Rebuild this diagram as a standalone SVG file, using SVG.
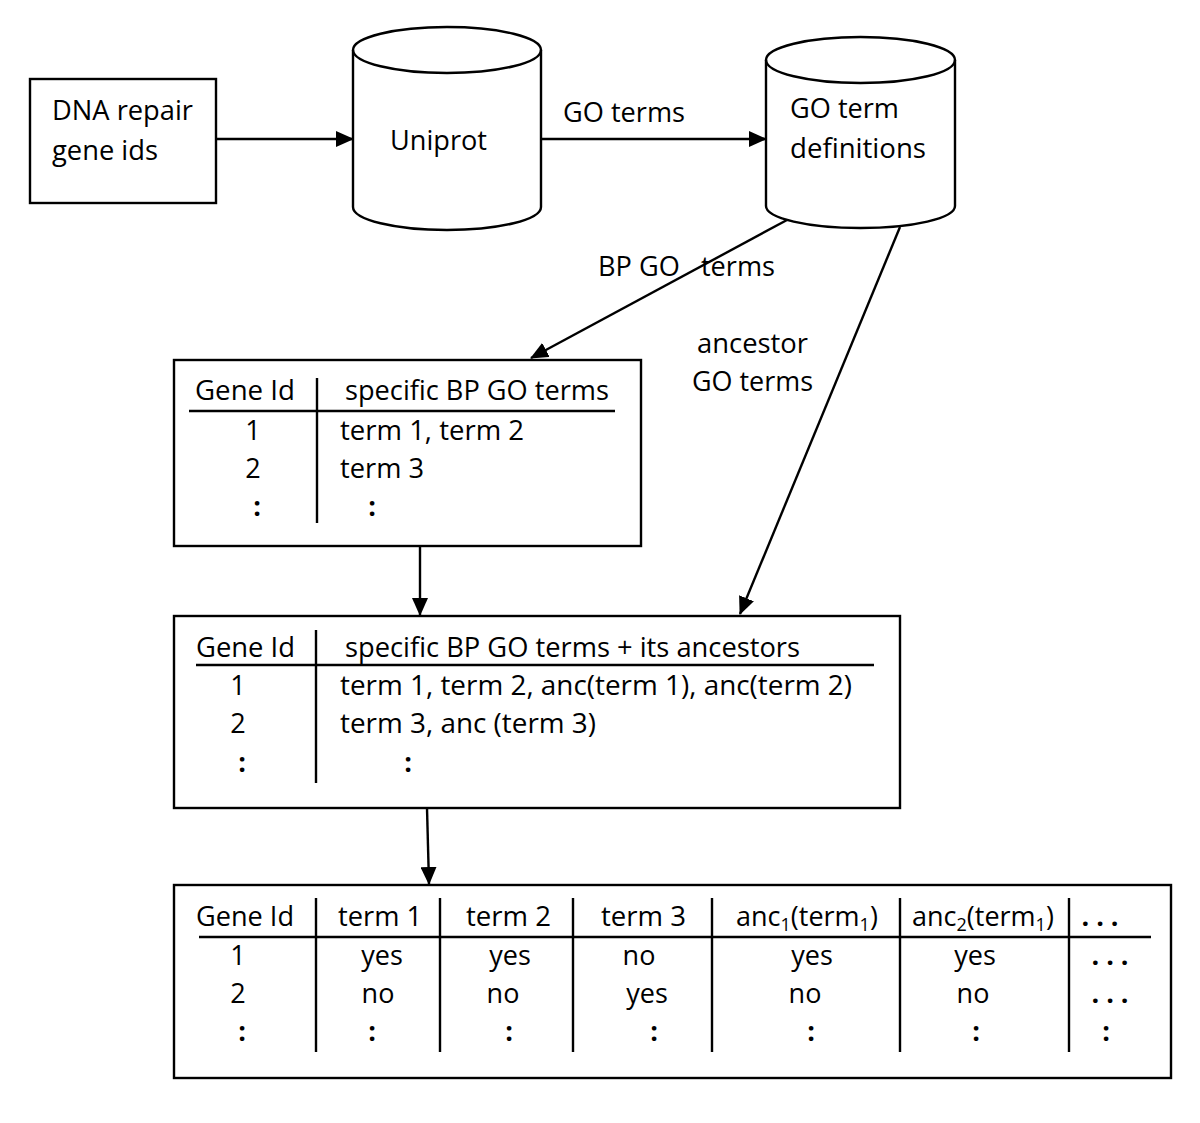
<svg xmlns="http://www.w3.org/2000/svg" width="1200" height="1123" viewBox="0 0 1200 1123">
<style>
text{font-family:"Open Sans","Liberation Sans",sans-serif;font-size:27px;fill:#000}
.s{font-size:18px}
.box{fill:#fff;stroke:#000;stroke-width:2.4}
.ln{stroke:#000;stroke-width:2.4;fill:none}
.c{text-anchor:middle}
.b{font-weight:bold}
</style>
<defs>
<marker id="ah" markerUnits="userSpaceOnUse" markerWidth="18" markerHeight="16" refX="17" refY="8" orient="auto">
<path d="M0,0 L18,8 L0,16 Z" fill="#000"/>
</marker>
</defs>
<rect width="1200" height="1123" fill="#fff"/>
<g id="connectors">
<line class="ln" x1="216" y1="139" x2="353" y2="139" marker-end="url(#ah)"/>
<line class="ln" x1="541" y1="139" x2="766" y2="139" marker-end="url(#ah)"/>
<line class="ln" x1="787" y1="220" x2="531" y2="358" marker-end="url(#ah)"/>
<line class="ln" x1="900" y1="227" x2="740" y2="614" marker-end="url(#ah)"/>
<line class="ln" x1="420" y1="546" x2="420" y2="615" marker-end="url(#ah)"/>
<line class="ln" x1="427" y1="808" x2="429" y2="884" marker-end="url(#ah)"/>
<text x="563" y="122" textLength="122" lengthAdjust="spacingAndGlyphs">GO terms</text>
<text x="598" y="276" textLength="177" lengthAdjust="spacingAndGlyphs" xml:space="preserve">BP GO   terms</text>
<text x="697" y="353" textLength="111" lengthAdjust="spacingAndGlyphs">ancestor</text>
<text x="692" y="391" textLength="121" lengthAdjust="spacingAndGlyphs">GO terms</text>
</g>
<g id="dna-repair">
<rect class="box" x="30" y="79" width="186" height="124"/>
<text x="52" y="120" textLength="141" lengthAdjust="spacingAndGlyphs">DNA repair</text>
<text x="52" y="160" textLength="106" lengthAdjust="spacingAndGlyphs">gene ids</text>
</g>
<g id="uniprot">
<path class="box" d="M353,50 L353,207 A94,23 0 0 0 541,207 L541,50 A94,23 0 0 0 353,50 Z"/>
<path class="ln" d="M353,50 A94,23 0 0 0 541,50"/>
<text x="390" y="150" textLength="97" lengthAdjust="spacingAndGlyphs">Uniprot</text>
</g>
<g id="go-defs">
<path class="box" d="M766,60 L766,206 A94.5,22 0 0 0 955,206 L955,60 A94.5,23 0 0 0 766,60 Z"/>
<path class="ln" d="M766,60 A94.5,23 0 0 0 955,60"/>
<text x="790" y="118" textLength="109" lengthAdjust="spacingAndGlyphs">GO term</text>
<text x="790" y="158" textLength="136" lengthAdjust="spacingAndGlyphs">definitions</text>
</g>
<g id="table1">
<rect class="box" x="174" y="360" width="467" height="186"/>
<line class="ln" x1="317" y1="378" x2="317" y2="523"/>
<line class="ln" x1="189" y1="411" x2="615" y2="411"/>
<text x="195" y="400" textLength="100" lengthAdjust="spacingAndGlyphs">Gene Id</text>
<text x="345" y="400" textLength="264" lengthAdjust="spacingAndGlyphs">specific BP GO terms</text>
<text class="c" x="253" y="440">1</text>
<text x="340" y="440" textLength="184" lengthAdjust="spacingAndGlyphs">term 1, term 2</text>
<text class="c" x="253" y="478">2</text>
<text x="340" y="478" textLength="84" lengthAdjust="spacingAndGlyphs">term 3</text>
<text class="c b" x="257" y="516">:</text>
<text class="c b" x="372" y="516">:</text>
</g>
<g id="table2">
<rect class="box" x="174" y="616" width="726" height="192"/>
<line class="ln" x1="316" y1="630" x2="316" y2="783"/>
<line class="ln" x1="196" y1="665" x2="874" y2="665"/>
<text x="196" y="657" textLength="99" lengthAdjust="spacingAndGlyphs">Gene Id</text>
<text x="345" y="657" textLength="455" lengthAdjust="spacingAndGlyphs">specific BP GO terms + its ancestors</text>
<text class="c" x="238" y="695">1</text>
<text x="340" y="695" textLength="512" lengthAdjust="spacingAndGlyphs">term 1, term 2, anc(term 1), anc(term 2)</text>
<text class="c" x="238" y="733">2</text>
<text x="340" y="733" textLength="256" lengthAdjust="spacingAndGlyphs">term 3, anc (term 3)</text>
<text class="c b" x="242" y="772">:</text>
<text class="c b" x="408" y="772">:</text>
</g>
<g id="table3">
<rect class="box" x="174" y="885" width="997" height="193"/>
<line class="ln" x1="199" y1="937" x2="1151" y2="937"/>
<line class="ln" x1="316" y1="898" x2="316" y2="1052"/>
<line class="ln" x1="440" y1="898" x2="440" y2="1052"/>
<line class="ln" x1="573" y1="898" x2="573" y2="1052"/>
<line class="ln" x1="712" y1="898" x2="712" y2="1052"/>
<line class="ln" x1="900" y1="898" x2="900" y2="1052"/>
<line class="ln" x1="1069" y1="898" x2="1069" y2="1052"/>
<text x="196" y="926" textLength="98" lengthAdjust="spacingAndGlyphs">Gene Id</text>
<text x="338" y="926" textLength="84" lengthAdjust="spacingAndGlyphs">term 1</text>
<text x="466" y="926" textLength="85" lengthAdjust="spacingAndGlyphs">term 2</text>
<text x="601" y="926" textLength="85" lengthAdjust="spacingAndGlyphs">term 3</text>
<text x="736" y="926">anc<tspan class="s" dy="5">1</tspan><tspan dy="-5">(term</tspan><tspan class="s" dy="5">1</tspan><tspan dy="-5">)</tspan></text>
<text x="912" y="926">anc<tspan class="s" dy="5">2</tspan><tspan dy="-5">(term</tspan><tspan class="s" dy="5">1</tspan><tspan dy="-5">)</tspan></text>
<text class="c b" x="1100" y="926">. . .</text>
<text class="c" x="238" y="965">1</text>
<text class="c" x="382" y="965">yes</text>
<text class="c" x="510" y="965">yes</text>
<text class="c" x="639" y="965">no</text>
<text class="c" x="812" y="965">yes</text>
<text class="c" x="975" y="965">yes</text>
<text class="c b" x="1110" y="965">. . .</text>
<text class="c" x="238" y="1003">2</text>
<text class="c" x="378" y="1003">no</text>
<text class="c" x="503" y="1003">no</text>
<text class="c" x="647" y="1003">yes</text>
<text class="c" x="805" y="1003">no</text>
<text class="c" x="973" y="1003">no</text>
<text class="c b" x="1110" y="1003">. . .</text>
<text class="c b" x="242" y="1041">:</text>
<text class="c b" x="372" y="1041">:</text>
<text class="c b" x="509" y="1041">:</text>
<text class="c b" x="654" y="1041">:</text>
<text class="c b" x="811" y="1041">:</text>
<text class="c b" x="976" y="1041">:</text>
<text class="c b" x="1106" y="1041">:</text>
</g>
</svg>
